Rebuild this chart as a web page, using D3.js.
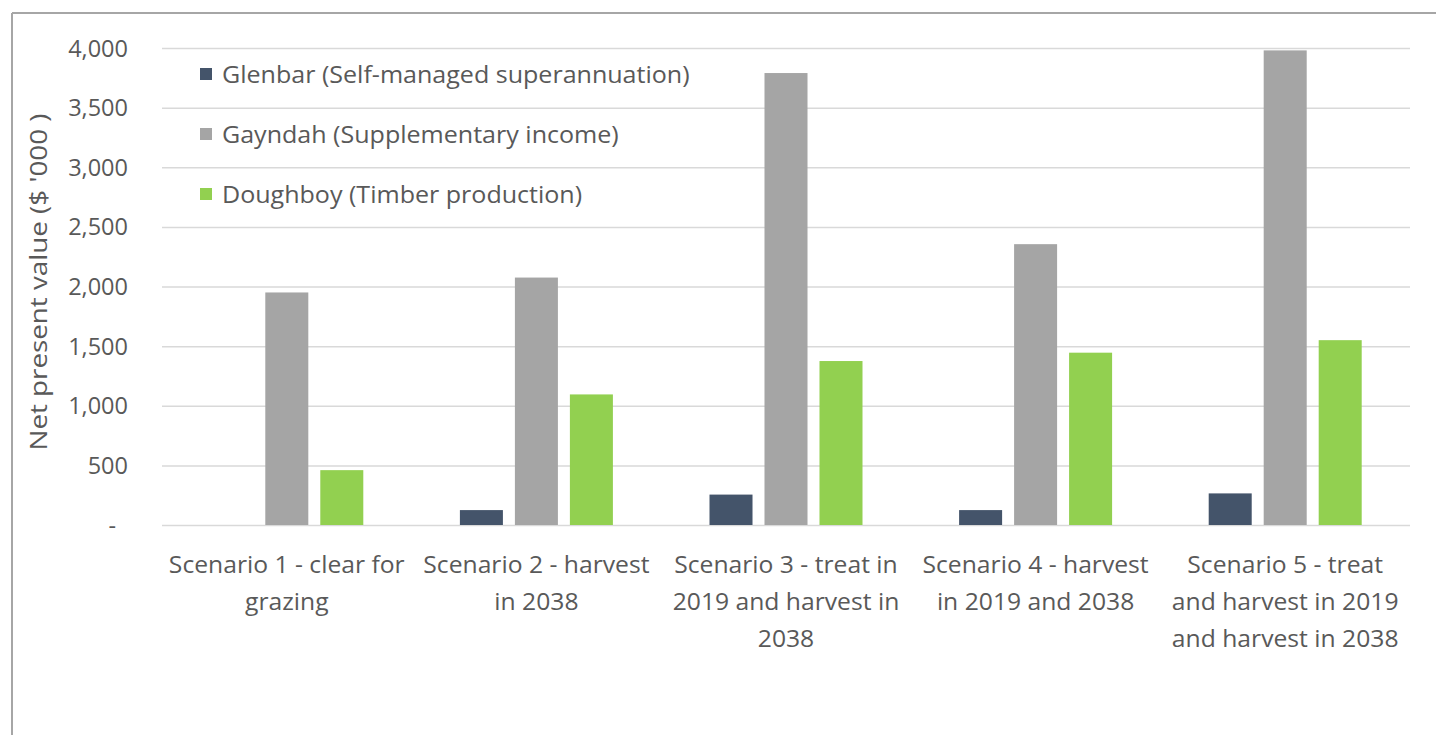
<!DOCTYPE html>
<html>
<head>
<meta charset="utf-8">
<script src="https://cdn.jsdelivr.net/npm/d3@7"></script>
<style>
  html, body { margin: 0; padding: 0; background: #fff; }
  svg { display: block; }
  text { font-family: "Open Sans", Lato, sans-serif; fill: #595959; }
</style>
</head>
<body>
<svg id="chart" width="1436" height="735"></svg>
<script>
const categories = [
  ["Scenario 1 - clear for", "grazing"],
  ["Scenario 2 - harvest", "in 2038"],
  ["Scenario 3 - treat in", "2019 and harvest in", "2038"],
  ["Scenario 4 - harvest", "in 2019 and 2038"],
  ["Scenario 5 - treat", "and harvest in 2019", "and harvest in 2038"]
];
const seriesNames = [
  "Glenbar (Self-managed superannuation)",
  "Gayndah (Supplementary income)",
  "Doughboy (Timber production)"
];
const glenbar  = [0, 125, 255, 125, 265];
const gayndah  = [1950, 2075, 3790, 2355, 3980];
const doughboy = [460, 1095, 1375, 1445, 1550];
const yTicks = [0, 500, 1000, 1500, 2000, 2500, 3000, 3500, 4000];
const colors = ["#44546a", "#a5a5a5", "#92d050"];

const seriesValues = [glenbar, gayndah, doughboy];
const svg = d3.select("#chart");

// outer frame (top and left visible)
svg.append("line").attr("x1", 12).attr("x2", 1436).attr("y1", 13).attr("y2", 13)
  .attr("stroke", "#a6a6a6").attr("stroke-width", 2);
svg.append("line").attr("x1", 12).attr("x2", 12).attr("y1", 13).attr("y2", 735)
  .attr("stroke", "#a6a6a6").attr("stroke-width", 2);

const mLeft = 162, mRight = 1410, mTop = 48, mBottom = 525;
const y = d3.scaleLinear().domain([0, 4000]).range([mBottom, mTop]);
const x0 = d3.scaleBand().domain(d3.range(categories.length)).range([mLeft, mRight])
  .paddingInner(0.339).paddingOuter(0.1695);
const x1 = d3.scaleBand().domain(d3.range(seriesNames.length)).range([0, x0.bandwidth()])
  .paddingInner(0.218).paddingOuter(0.109);

// gridlines + y ticks
const yAxis = d3.axisLeft(y).tickValues(yTicks)
  .tickSize(-(mRight - mLeft))
  .tickFormat(d => d === 0 ? "-" : d3.format(",")(d));
const gy = svg.append("g").attr("transform", `translate(${mLeft},0)`).call(yAxis);
gy.select(".domain").remove();
gy.selectAll(".tick line").attr("stroke", "#d9d9d9").attr("stroke-width", 1.5);
gy.selectAll(".tick text").attr("x", -34).attr("font-size", 23.5).attr("fill", "#595959")
  .attr("font-family", "'Open Sans', sans-serif").attr("dy", "0.34em");
gy.selectAll(".tick text").filter(d => d === 0).attr("x", -46);

// bars
const groups = svg.append("g").selectAll("g").data(categories).join("g")
  .attr("transform", (d, i) => `translate(${x0(i)},0)`);
groups.selectAll("rect")
  .data((d, i) => seriesValues.map((s, k) => ({k, v: s[i]})))
  .join("rect")
  .attr("x", d => x1(d.k))
  .attr("width", x1.bandwidth())
  .attr("y", d => y(d.v))
  .attr("height", d => mBottom - y(d.v))
  .attr("fill", d => colors[d.k]);

// x labels
const xl = svg.append("g");
categories.forEach((lines, i) => {
  const cx = x0(i) + x0.bandwidth() / 2;
  lines.forEach((ln, j) => {
    const t = xl.append("text").attr("x", cx).attr("y", 573 + j * 37)
      .attr("text-anchor", "middle").attr("font-size", 23.5).text(ln);
    const w = t.node().getComputedTextLength();
    t.attr("textLength", w * 1.05).attr("lengthAdjust", "spacingAndGlyphs");
  });
});

// y axis title
svg.append("text")
  .attr("transform", "translate(47,282) rotate(-90)")
  .attr("text-anchor", "middle").attr("font-size", 24.5)
  .attr("textLength", 337).attr("lengthAdjust", "spacingAndGlyphs")
  .text("Net present value ($ '000 )");

// legend
const lg = svg.append("g");
seriesNames.forEach((name, k) => {
  const cy = 74 + k * 60;
  lg.append("rect").attr("x", 200).attr("y", cy - 6).attr("width", 12).attr("height", 12)
    .attr("fill", colors[k]);
  const t = lg.append("text").attr("x", 222).attr("y", cy).attr("dy", "0.35em")
    .attr("font-size", 24.5).text(name);
  const w = t.node().getComputedTextLength();
  t.attr("textLength", w * 1.022).attr("lengthAdjust", "spacingAndGlyphs");
});
</script>
</body>
</html>
